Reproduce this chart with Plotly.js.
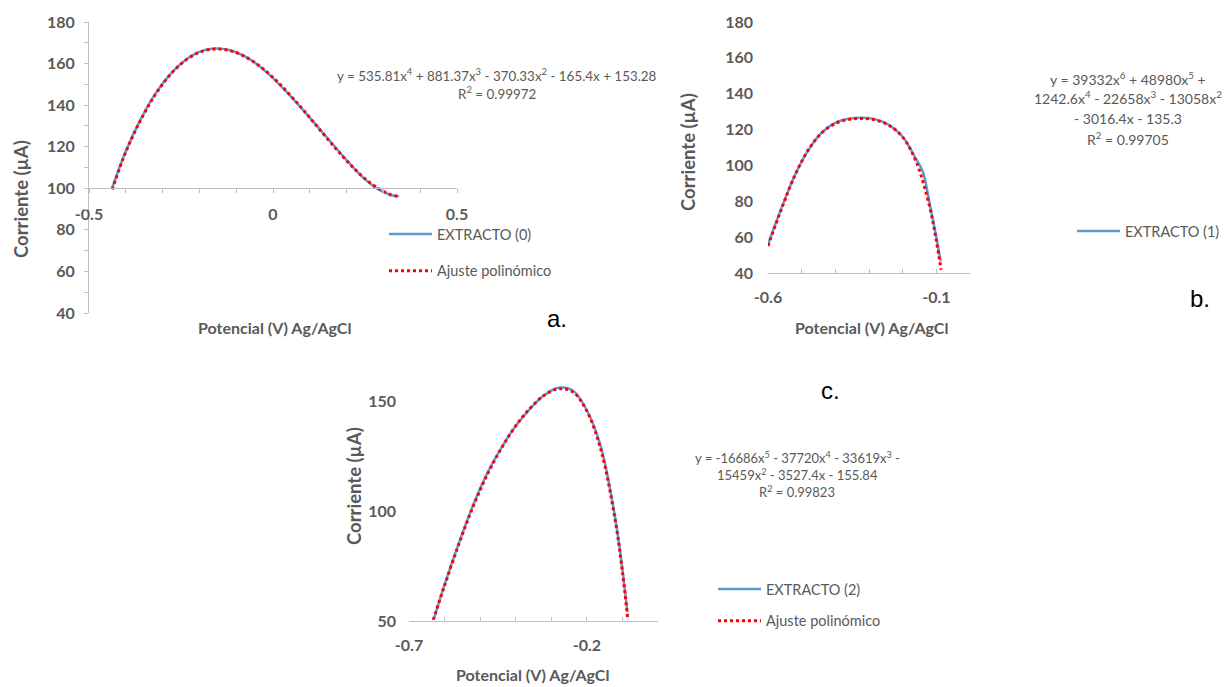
<!DOCTYPE html>
<html>
<head>
<meta charset="utf-8">
<script src="https://cdn.plot.ly/plotly-3.0.1.min.js"></script>
<style>html,body{margin:0;padding:0;background:#fff;}#chart{width:1225px;height:687px;}</style>
</head>
<body>
<div id="chart"></div>
<script>
// ---------- Data ----------
// Panel a: EXTRACTO (0)
const aDataX = [-0.437, -0.40, -0.36, -0.32, -0.28, -0.24, -0.20, -0.16, -0.12, -0.08, -0.04, 0.00, 0.04, 0.08, 0.12, 0.16, 0.20, 0.24, 0.28, 0.32, 0.342];
const aDataY = [100.2, 117.8, 133.0, 145.4, 154.7, 161.4, 165.6, 167.2, 166.5, 163.8, 159.2, 153.0, 145.8, 138.0, 129.9, 121.6, 113.5, 106.0, 100.2, 96.8, 96.2];
const aFitX  = [-0.437, -0.40, -0.36, -0.32, -0.28, -0.24, -0.20, -0.16, -0.12, -0.08, -0.04, 0.00, 0.04, 0.08, 0.12, 0.16, 0.20, 0.24, 0.28, 0.32, 0.342];
const aFitY  = [99.4, 117.5, 132.7, 145.0, 154.5, 161.3, 165.4, 167.0, 166.4, 163.7, 159.3, 153.3, 146.1, 138.2, 129.7, 121.3, 113.3, 106.2, 100.6, 96.9, 96.0];

// Panel b: EXTRACTO (1)
const bDataX = [-0.60, -0.56, -0.52, -0.48, -0.44, -0.40, -0.36, -0.32, -0.28, -0.24, -0.20, -0.16, -0.14, -0.12, -0.10, -0.087];
const bDataY = [56.0, 76.2, 94.5, 108.5, 118.4, 123.8, 126.0, 126.6, 125.7, 122.5, 116.0, 103.5, 96.5, 79.0, 60.0, 46.5];
const bFitX  = [-0.60, -0.56, -0.52, -0.48, -0.44, -0.40, -0.36, -0.32, -0.28, -0.24, -0.20, -0.16, -0.12, -0.10, -0.086];
const bFitY  = [55.1, 75.7, 94.5, 108.8, 118.2, 123.4, 125.7, 126.2, 125.3, 122.3, 115.8, 102.1, 77.0, 58.1, 41.8];

// Panel c: EXTRACTO (2)
const cDataX = [-0.630, -0.60, -0.56, -0.52, -0.48, -0.44, -0.40, -0.36, -0.32, -0.28, -0.24, -0.20, -0.16, -0.12, -0.10, -0.086];
const cDataY = [51.0, 66.5, 85.3, 102.5, 117.2, 128.8, 138.6, 146.4, 152.6, 156.0, 154.8, 145.8, 128.8, 96.5, 73.5, 54.0];
const cFitX  = [-0.632, -0.60, -0.56, -0.52, -0.48, -0.44, -0.40, -0.36, -0.32, -0.28, -0.24, -0.20, -0.16, -0.12, -0.10, -0.085];
const cFitY  = [50.5, 66.1, 84.9, 101.9, 116.5, 128.6, 138.7, 146.6, 152.6, 155.5, 154.2, 145.4, 127.5, 95.5, 72.3, 51.0];

// Series names
const seriesNames = ["EXTRACTO (0)", "EXTRACTO (1)", "EXTRACTO (2)", "Ajuste polinómico"];

// Tick values / labels
const aXTickVals = [-0.5, -0.4, -0.3, -0.2, -0.1, 0, 0.1, 0.2, 0.3, 0.4, 0.5];
const aXTickText = ["-0.5", "", "", "", "", "0", "", "", "", "", "0.5"];
const aYTickVals = [40, 60, 80, 100, 120, 140, 160, 180];
const bXTickVals = [-0.6, -0.5, -0.4, -0.3, -0.2, -0.1, 0];
const bXTickText = ["-0.6", "", "", "", "", "-0.1", ""];
const bYTickVals = [40, 60, 80, 100, 120, 140, 160, 180];
const cXTickVals = [-0.7, -0.6, -0.5, -0.4, -0.3, -0.2, -0.1, 0];
const cXTickText = ["-0.7", "", "", "", "", "-0.2", "", ""];
const cYTickVals = [50, 100, 150];

// Equation texts
const eqA = ["y = 535.81x<sup>4</sup> + 881.37x<sup>3</sup> - 370.33x<sup>2</sup> - 165.4x + 153.28", "R<sup>2</sup> = 0.99972"];
const eqB = ["y = 39332x<sup>6</sup> + 48980x<sup>5</sup> +", "1242.6x<sup>4</sup> - 22658x<sup>3</sup> - 13058x<sup>2</sup>", "- 3016.4x - 135.3", "R<sup>2</sup> = 0.99705"];
const eqC = ["y = -16686x<sup>5</sup> - 37720x<sup>4</sup> - 33619x<sup>3</sup> -", "15459x<sup>2</sup> - 3527.4x - 155.84", "R<sup>2</sup> = 0.99823"];
const axisTitleX = "Potencial (V) Ag/AgCl";
const axisTitleY = "Corriente (µA)";

// ---------- Styling ----------
const W = 1225, H = 687;
const fx = p => p / W;
const fy = p => 1 - p / H;
const BLUE = "#5b9bd5", RED = "#ff0000", GREY = "#595959", LINE = "#bfbfbf";
const FONT = "Lato, 'Open Sans', sans-serif";
const tickFont = {family: FONT, size: 16, color: GREY, weight: 700};

const dataLine = {color: BLUE, width: 2.5, shape: "spline"};
const fitLine = {color: RED, width: 3, dash: "dot", shape: "spline"};

const traces = [
  {x: aDataX, y: aDataY, xaxis: "x", yaxis: "y", mode: "lines", name: seriesNames[0], line: dataLine, legend: "legend", legendgroup: "a1"},
  {x: aFitX, y: aFitY, xaxis: "x", yaxis: "y", mode: "lines", name: seriesNames[3], line: fitLine, legend: "legend", legendgroup: "a2"},
  {x: bDataX, y: bDataY, xaxis: "x2", yaxis: "y2", mode: "lines", name: seriesNames[1], line: dataLine, legend: "legend2", legendgroup: "b1"},
  {x: bFitX, y: bFitY, xaxis: "x2", yaxis: "y2", mode: "lines", name: seriesNames[3], line: fitLine, legend: "legend2", showlegend: false},
  {x: cDataX, y: cDataY, xaxis: "x3", yaxis: "y3", mode: "lines", name: seriesNames[2], line: dataLine, legend: "legend3", legendgroup: "c1"},
  {x: cFitX, y: cFitY, xaxis: "x3", yaxis: "y3", mode: "lines", name: seriesNames[3], line: fitLine, legend: "legend3", legendgroup: "c2"}
];

const baseAxis = {showgrid: false, zeroline: false, linecolor: LINE, linewidth: 1, tickcolor: LINE, tickwidth: 1, ticklen: 4, tickfont: tickFont, fixedrange: true};

const legendBase = {font: {family: FONT, size: 14.5, color: GREY}, bgcolor: "rgba(0,0,0,0)", xanchor: "left", yanchor: "top", traceorder: "grouped", tracegroupgap: 15, itemclick: false, itemwidth: 43};

const ann = [];
function txt(text, x, y, size, color, family, extra) {
  ann.push(Object.assign({text: text, x: fx(x), y: fy(y), xref: "paper", yref: "paper", showarrow: false, xanchor: "center", yanchor: "middle", font: {family: family || FONT, size: size, color: color || GREY}}, extra || {}));
}
// Equations
txt(eqA[0], 497, 75, 13.4);
txt(eqA[1], 497, 93, 13.4);
[79, 98, 118, 138].forEach((yy, i) => txt(eqB[i], 1128, yy, 14));
[457, 474, 491].forEach((yy, i) => txt(eqC[i], 797, yy, 13));
// Axis titles
const titleFontX = {family: FONT, size: 16, color: GREY, weight: 700};
const titleFontY = {family: FONT, size: 18.5, color: GREY, weight: 700};
[[274, 328], [871, 328], [532, 674]].forEach(p => ann.push({text: axisTitleX, x: fx(p[0]), y: fy(p[1]), xref: "paper", yref: "paper", showarrow: false, xanchor: "center", yanchor: "middle", font: titleFontX}));
[[21, 199], [688, 152], [354, 486]].forEach(p => ann.push({text: axisTitleY, x: fx(p[0]), y: fy(p[1]), xref: "paper", yref: "paper", showarrow: false, xanchor: "center", yanchor: "middle", textangle: -90, font: titleFontY}));
// Panel letters
txt("a.", 557, 318, 24, "#000", "'Liberation Sans', Arial, sans-serif");
txt("b.", 1200, 298, 24, "#000", "'Liberation Sans', Arial, sans-serif");
txt("c.", 830, 390, 24, "#000", "'Liberation Sans', Arial, sans-serif");

const layout = {
  width: W, height: H,
  margin: {l: 0, r: 0, t: 0, b: 0},
  paper_bgcolor: "#fff", plot_bgcolor: "rgba(0,0,0,0)",
  showlegend: true,
  xaxis: Object.assign({}, baseAxis, {domain: [fx(89), fx(457)], range: [-0.5, 0.5], anchor: "free", position: fy(188), showline: true, ticks: "outside", tickmode: "array", tickvals: aXTickVals, ticktext: aXTickText, ticklabelstandoff: 8}),
  yaxis: Object.assign({}, baseAxis, {domain: [fy(313), fy(22)], range: [40, 180], anchor: "x", showline: true, ticks: "outside", tickmode: "array", tickvals: aYTickVals, minor: {dtick: 10, tick0: 40, ticks: "outside", ticklen: 4, tickcolor: LINE}, ticklabelstandoff: 6}),
  xaxis2: Object.assign({}, baseAxis, {domain: [fx(768), fx(970)], range: [-0.6, 0], anchor: "y2", showline: true, ticks: "inside", tickmode: "array", tickvals: bXTickVals, ticktext: bXTickText, ticklabelstandoff: 10}),
  yaxis2: Object.assign({}, baseAxis, {domain: [fy(273), fy(22)], range: [40, 180], anchor: "x2", showline: false, ticks: "", tickmode: "array", tickvals: bYTickVals, ticklabelstandoff: 14}),
  yaxis4: Object.assign({}, baseAxis, {overlaying: "y2", side: "right", anchor: "x2", range: [40, 180], showline: true, ticks: "inside", dtick: 10, tick0: 40, showticklabels: false}),
  xaxis3: Object.assign({}, baseAxis, {domain: [fx(409), fx(658)], range: [-0.7, 0], anchor: "y3", showline: true, ticks: "inside", tickmode: "array", tickvals: cXTickVals, ticktext: cXTickText, ticklabelstandoff: 10}),
  yaxis3: Object.assign({}, baseAxis, {domain: [fy(621), fy(357)], range: [50, 170], anchor: "x3", showline: false, ticks: "", tickmode: "array", tickvals: cYTickVals, ticklabelstandoff: 12}),
  yaxis5: Object.assign({}, baseAxis, {overlaying: "y3", side: "right", anchor: "x3", range: [50, 170], showline: true, ticks: "inside", dtick: 10, tick0: 50, showticklabels: false}),
  legend: Object.assign({}, legendBase, {x: fx(384), y: fy(218)}),
  legend2: Object.assign({}, legendBase, {x: fx(1072), y: fy(215)}),
  legend3: Object.assign({}, legendBase, {x: fx(713), y: fy(573), tracegroupgap: 10}),
  annotations: ann
};

Plotly.newPlot("chart", traces, layout, {displayModeBar: false, staticPlot: true});
</script>
</body>
</html>
